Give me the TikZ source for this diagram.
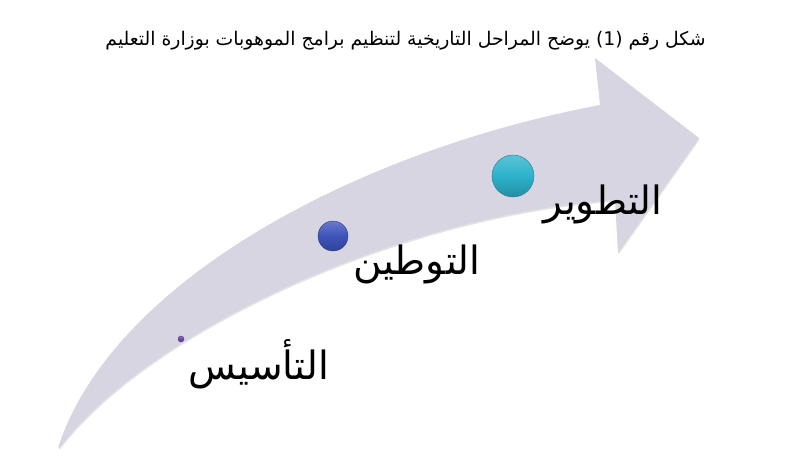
\documentclass[tikz,border=0pt]{standalone}
\usepackage{fontspec}
\newfontfamily\arabicfont[Script=Arabic]{DejaVu Sans}
\TeXXeTstate=1
\usepackage{tikz}
\usetikzlibrary{shadows}
\definecolor{bandgray}{RGB}{216,213,227}
\definecolor{dotpurple}{RGB}{112,72,165}
\definecolor{dotblue}{RGB}{62,84,186}
\definecolor{dotcyan}{RGB}{44,178,204}

\begin{document}
\begin{tikzpicture}[x=1pt,y=-1pt,
  band/.style={fill=bandgray,drop shadow={shadow xshift=0.6pt,shadow yshift=-1.6pt,opacity=0.22}},
  stagedot/.style 2 args={circle,inner sep=0pt,minimum size=#2pt,draw=#1!70!black,line width=0.4pt,top color=#1!78!white,bottom color=#1!80!black,middle color=#1},
  stage/.style={font=\arabicfont\fontsize{39}{43}\selectfont,inner sep=0pt},
  caption/.style={font=\arabicfont\fontsize{18.8}{22}\selectfont,inner sep=0pt}]
\useasboundingbox (0,0) rectangle (790,460);
% curved arrow
\path[band] (58,448) .. controls (112,280) and (360,150) .. (600,105)
  -- (595,58) -- (699,138) -- (618,253) -- (615,200)
  .. controls (400,215) and (150,330) .. (60,447) -- cycle;
\node[caption] (title) at (405.5,41) {\beginR شكل رقم (1) يوضح المراحل التاريخية لتنظيم برامج الموهوبات بوزارة التعليم\endR};
\foreach \nm/\x/\y/\col/\sz in {dotA/181/339/dotpurple/6,dotB/333/236/dotblue/30,dotC/513/176/dotcyan/42} {
  \node[stagedot={\col}{\sz}] (\nm) at (\x,\y) {};
}
\node[stage] (foundation) at (259,364) {\beginR التأسيس\endR};
\node[stage] (settling) at (417,264) {\beginR التوطين\endR};
\node[stage] (growth) at (603,204) {\beginR التطوير\endR};
\end{tikzpicture}
\end{document}
